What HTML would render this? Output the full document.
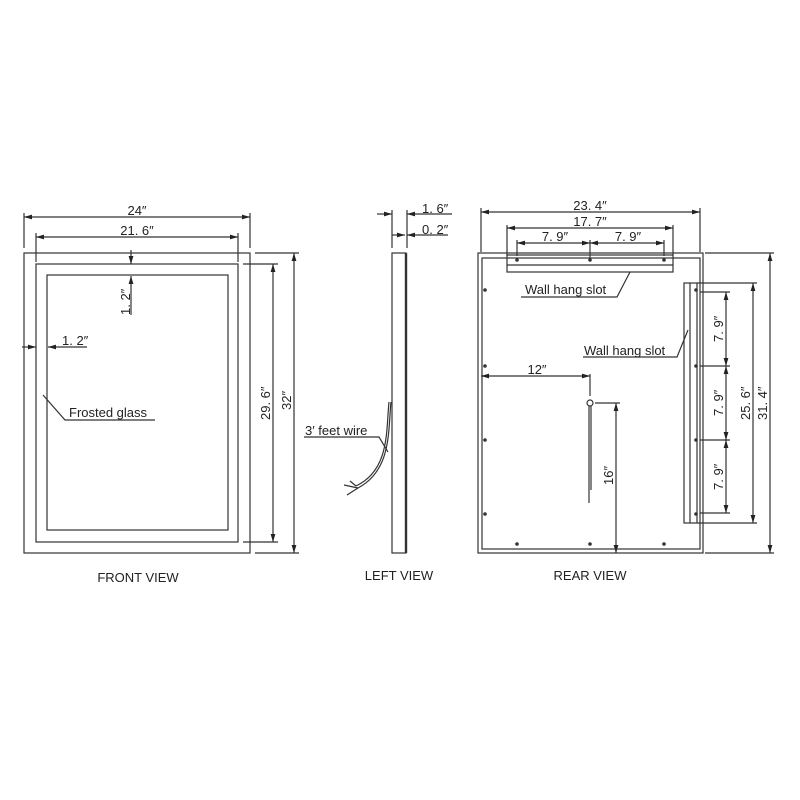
<!DOCTYPE html>
<html><head><style>body{margin:0;background:#fff}svg{display:block}text{font-family:"Liberation Sans",sans-serif;fill:#222}</style></head><body>
<svg width="800" height="800" viewBox="0 0 800 800" xmlns="http://www.w3.org/2000/svg">
<defs>
<marker id="a" viewBox="0 0 10 6" refX="10" refY="3" markerWidth="7" markerHeight="4" orient="auto-start-reverse"><path d="M0,0L10,3L0,6z" fill="#222"/></marker>
</defs>
<g stroke="#333" fill="none" stroke-width="1.2">
<!-- FRONT -->
<rect x="24" y="253" width="226" height="300"/>
<rect x="36" y="264" width="202" height="278"/>
<rect x="47" y="275" width="181" height="255"/>
<line x1="24" y1="213" x2="24" y2="248"/><line x1="250" y1="213" x2="250" y2="248"/>
<line x1="24" y1="217" x2="250" y2="217" marker-start="url(#a)" marker-end="url(#a)"/>
<line x1="36" y1="233" x2="36" y2="262"/><line x1="238" y1="233" x2="238" y2="262"/>
<line x1="36" y1="237" x2="238" y2="237" marker-start="url(#a)" marker-end="url(#a)"/>
<line x1="131" y1="250" x2="131" y2="264" marker-end="url(#a)"/>
<line x1="131" y1="315" x2="131" y2="276" marker-end="url(#a)"/>
<line x1="22" y1="347" x2="36" y2="347" marker-end="url(#a)"/>
<line x1="87" y1="347" x2="48" y2="347" marker-end="url(#a)"/>
<line x1="243" y1="264" x2="278" y2="264"/><line x1="243" y1="542" x2="278" y2="542"/>
<line x1="273" y1="264" x2="273" y2="542" marker-start="url(#a)" marker-end="url(#a)"/>
<line x1="255" y1="253" x2="299" y2="253"/><line x1="255" y1="553" x2="299" y2="553"/>
<line x1="294" y1="253" x2="294" y2="553" marker-start="url(#a)" marker-end="url(#a)"/>
<polyline points="43,395 65,420 155,420"/>
<!-- LEFT -->
<rect x="392" y="253" width="14" height="300"/>
<line x1="406" y1="253" x2="406" y2="553" stroke-width="2.4"/>
<line x1="392" y1="210" x2="392" y2="248"/><line x1="407" y1="210" x2="407" y2="248"/>
<line x1="377" y1="214" x2="392" y2="214" marker-end="url(#a)"/>
<line x1="452" y1="214" x2="407" y2="214" marker-end="url(#a)"/>
<line x1="392" y1="235" x2="405" y2="235" marker-end="url(#a)"/>
<line x1="448" y1="235" x2="407" y2="235" marker-end="url(#a)"/>
<path d="M391,402 C388,430 392,470 358,488 M389,402 C386,430 390,470 356,486 M358,488 L344,485 M358,488 L347,495 M356,486 L350,481"/>
<polyline points="304,437 379,437 388,452"/>
<!-- REAR -->
<rect x="478" y="253" width="225" height="300"/>
<rect x="482" y="258" width="218" height="291"/>
<rect x="507" y="255" width="166" height="17"/>
<line x1="507" y1="265" x2="673" y2="265"/>
<rect x="684" y="283" width="13" height="240"/>
<line x1="690" y1="283" x2="690" y2="523"/>
<line x1="481" y1="208" x2="481" y2="252"/><line x1="700" y1="208" x2="700" y2="252"/>
<line x1="481" y1="212" x2="700" y2="212" marker-start="url(#a)" marker-end="url(#a)"/>
<line x1="507" y1="225" x2="507" y2="256"/><line x1="673" y1="225" x2="673" y2="256"/>
<line x1="507" y1="228" x2="673" y2="228" marker-start="url(#a)" marker-end="url(#a)"/>
<line x1="517" y1="240" x2="517" y2="256"/><line x1="590" y1="240" x2="590" y2="260"/><line x1="664" y1="240" x2="664" y2="256"/>
<line x1="517" y1="243" x2="590" y2="243" marker-start="url(#a)" marker-end="url(#a)"/>
<line x1="590" y1="243" x2="664" y2="243" marker-start="url(#a)" marker-end="url(#a)"/>
<line x1="481" y1="376" x2="590" y2="376" marker-start="url(#a)" marker-end="url(#a)"/>
<line x1="590" y1="374" x2="590" y2="396"/>
<circle cx="590" cy="403" r="3"/>
<line x1="589" y1="406" x2="589" y2="503"/><line x1="591" y1="406" x2="591" y2="490"/>
<line x1="595" y1="403" x2="620" y2="403"/>
<line x1="616" y1="403" x2="616" y2="553" marker-start="url(#a)" marker-end="url(#a)"/>
<line x1="700" y1="292" x2="730" y2="292"/><line x1="700" y1="366" x2="730" y2="366"/><line x1="700" y1="440" x2="730" y2="440"/><line x1="700" y1="513" x2="730" y2="513"/>
<line x1="726" y1="292" x2="726" y2="366" marker-start="url(#a)" marker-end="url(#a)"/>
<line x1="726" y1="366" x2="726" y2="440" marker-start="url(#a)" marker-end="url(#a)"/>
<line x1="726" y1="440" x2="726" y2="513" marker-start="url(#a)" marker-end="url(#a)"/>
<line x1="697" y1="283" x2="757" y2="283"/><line x1="697" y1="523" x2="757" y2="523"/>
<line x1="753" y1="283" x2="753" y2="523" marker-start="url(#a)" marker-end="url(#a)"/>
<line x1="705" y1="253" x2="774" y2="253"/><line x1="705" y1="553" x2="774" y2="553"/>
<line x1="770" y1="253" x2="770" y2="553" marker-start="url(#a)" marker-end="url(#a)"/>
<polyline points="521,297 617,297 630,272"/>
<polyline points="583,357 677,357 688,330"/>
</g>
<g fill="#333">
<circle cx="517" cy="260" r="1.8"/><circle cx="590" cy="260" r="1.8"/><circle cx="664" cy="260" r="1.8"/>
<circle cx="517" cy="544" r="1.8"/><circle cx="590" cy="544" r="1.8"/><circle cx="664" cy="544" r="1.8"/>
<circle cx="485" cy="366" r="1.8"/><circle cx="485" cy="440" r="1.8"/><circle cx="485" cy="514" r="1.8"/><circle cx="485" cy="290" r="1.8"/>
<circle cx="696" cy="366" r="1.8"/><circle cx="696" cy="440" r="1.8"/><circle cx="696" cy="514" r="1.8"/><circle cx="696" cy="290" r="1.8"/>
</g>
<g font-size="13">
<text x="137" y="215" text-anchor="middle">24″</text>
<text x="137" y="235" text-anchor="middle">21. 6″</text>
<text x="62" y="345">1. 2″</text>
<text transform="translate(130,315) rotate(-90)">1. 2″</text>
<text transform="translate(270,420) rotate(-90)">29. 6″</text>
<text transform="translate(291,410) rotate(-90)">32″</text>
<text x="69" y="417">Frosted glass</text>
<text x="422" y="213">1. 6″</text>
<text x="422" y="234">0. 2″</text>
<text x="305" y="435">3′ feet wire</text>
<text x="590" y="210" text-anchor="middle">23. 4″</text>
<text x="590" y="226" text-anchor="middle">17. 7″</text>
<text x="555" y="241" text-anchor="middle">7. 9″</text>
<text x="628" y="241" text-anchor="middle">7. 9″</text>
<text x="525" y="294">Wall hang slot</text>
<text x="584" y="355">Wall hang slot</text>
<text x="537" y="374" text-anchor="middle">12″</text>
<text transform="translate(613,485) rotate(-90)">16″</text>
<text transform="translate(723,342) rotate(-90)">7. 9″</text>
<text transform="translate(723,416) rotate(-90)">7. 9″</text>
<text transform="translate(723,490) rotate(-90)">7. 9″</text>
<text transform="translate(750,420) rotate(-90)">25. 6″</text>
<text transform="translate(767,420) rotate(-90)">31. 4″</text>
<text x="138" y="582" text-anchor="middle">FRONT VIEW</text>
<text x="399" y="580" text-anchor="middle">LEFT VIEW</text>
<text x="590" y="580" text-anchor="middle">REAR VIEW</text>
</g>
</svg>
</body></html>
